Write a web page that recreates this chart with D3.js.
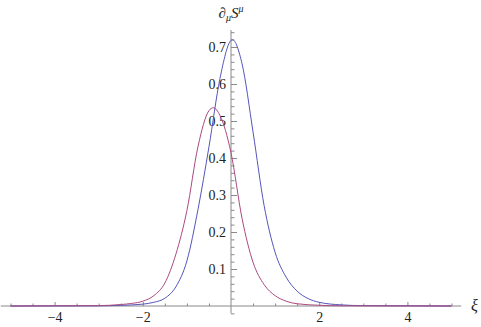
<!DOCTYPE html>
<html><head><meta charset="utf-8">
<script src="https://cdn.jsdelivr.net/npm/d3@7"></script>
<style>
html,body{margin:0;padding:0;background:#fff;}
svg{display:block;}
svg text{font-family:"Liberation Serif","DejaVu Serif",Times,serif !important;fill:#222;}
</style></head>
<body><svg id="c" width="481" height="327"></svg>
<script>
// data
const blueX = [-5, -3, -2.5, -2, -1.75, -1.5, -1.25, -1.0, -0.75, -0.5, -0.25, 0, 0.03, 0.25, 0.5, 0.75, 1.0, 1.25, 1.5, 1.75, 2, 2.5, 3, 5];
const blueY = [0, 0.0005, 0.0018, 0.005, 0.01, 0.021, 0.052, 0.122, 0.26, 0.43, 0.615, 0.718, 0.72, 0.655, 0.47, 0.272, 0.145, 0.078, 0.04, 0.02, 0.01, 0.003, 0.001, 0];
const purpleX = [-5, -3, -2.5, -2.25, -2, -1.75, -1.5, -1.25, -1.0, -0.75, -0.5, -0.4, -0.25, 0, 0.25, 0.5, 0.75, 1.0, 1.25, 1.5, 2, 2.5, 5];
const purpleY = [0, 0.001, 0.004, 0.007, 0.013, 0.028, 0.062, 0.14, 0.258, 0.43, 0.528, 0.536, 0.515, 0.414, 0.237, 0.118, 0.058, 0.028, 0.013, 0.006, 0.002, 0.0005, 0];
const xMajor = [-4, -2, 2, 4];
const xMinor = [-5, -4.5, -3.5, -3, -2.5, -1.5, -1, -0.5, 0.5, 1, 1.5, 2.5, 3, 3.5, 4.5, 5];
const yMajor = [0.1, 0.2, 0.3, 0.4, 0.5, 0.6, 0.7];
const yMinor = [-0.02, 0.02, 0.04, 0.06, 0.08, 0.12, 0.14, 0.16, 0.18, 0.22, 0.24, 0.26, 0.28, 0.32, 0.34, 0.36, 0.38, 0.42, 0.44, 0.46, 0.48, 0.52, 0.54, 0.56, 0.58, 0.62, 0.64, 0.66, 0.68, 0.72, 0.74];

const FONT = '"Liberation Serif","DejaVu Serif",Times,serif';
const svg = d3.select("#c");
const x = d3.scaleLinear().domain([-5, 5]).range([10.5, 451.5]);
const y = d3.scaleLinear().domain([0, 0.7]).range([306, 47]);
const axisColor = "#8a8a8a";

// axis lines
svg.append("line").attr("x1", x(-5.22)).attr("x2", x(5.22)).attr("y1", y(0)).attr("y2", y(0))
  .attr("stroke", axisColor).attr("stroke-width", 1);
svg.append("line").attr("x1", x(0)).attr("x2", x(0)).attr("y1", y(-0.02)).attr("y2", y(0.746))
  .attr("stroke", axisColor).attr("stroke-width", 1);

function style(g){
  g.attr("font-family", FONT).attr("font-size", 14);
  g.select(".domain").remove();
  g.selectAll(".tick line").attr("stroke", axisColor);
  g.selectAll(".tick text").attr("fill", "#222");
}
// x ticks (pointing up)
svg.append("g").attr("transform", `translate(0,${y(0)})`)
  .call(d3.axisBottom(x).tickValues(xMinor).tickSize(-2.5).tickFormat("")).call(style);
svg.append("g").attr("transform", `translate(0,${y(0)})`)
  .call(d3.axisBottom(x).tickValues(xMajor).tickSize(-4).tickPadding(6).tickFormat(d3.format("d"))).call(style);
// y ticks (pointing right)
svg.append("g").attr("transform", `translate(${x(0)},0)`)
  .call(d3.axisLeft(y).tickValues(yMinor).tickSize(-3.5).tickFormat("")).call(style);
svg.append("g").attr("transform", `translate(${x(0)},0)`)
  .call(d3.axisLeft(y).tickValues(yMajor).tickSize(-6).tickPadding(5).tickFormat(d3.format(".1f"))).call(style);

// curves
const line = d3.line().x(d => x(d[0])).y(d => y(d[1])).curve(d3.curveMonotoneX);
svg.append("path").datum(d3.zip(blueX, blueY)).attr("d", line)
  .attr("fill", "none").attr("stroke", "#5555bb").attr("stroke-width", 1);
svg.append("path").datum(d3.zip(purpleX, purpleY)).attr("d", line)
  .attr("fill", "none").attr("stroke", "#aa4a80").attr("stroke-width", 1);

// axis labels
const t = svg.append("text").attr("x", x(0)).attr("y", 18).attr("text-anchor", "middle").attr("font-size", 15);
t.append("tspan").text("∂").attr("font-style", "italic");
t.append("tspan").text("μ").attr("dy", 3).attr("font-size", 10).attr("font-style", "italic");
t.append("tspan").text("S").attr("dy", -3).attr("font-style", "italic");
t.append("tspan").text("μ").attr("dy", -6).attr("font-size", 10).attr("font-style", "italic");
svg.append("text").attr("x", 471).attr("y", 311).attr("font-size", 16).attr("font-style", "italic").text("ξ");
</script></body></html>
